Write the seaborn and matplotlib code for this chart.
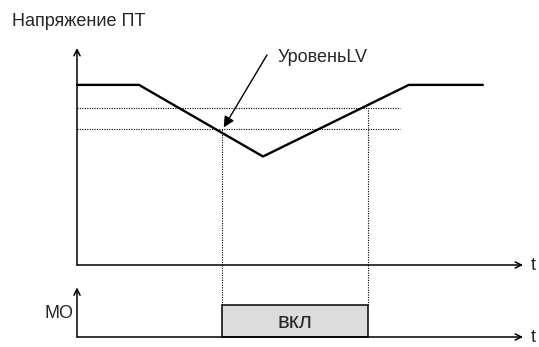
import matplotlib
matplotlib.use("Agg")
import matplotlib.pyplot as plt
import seaborn as sns
import pandas as pd
from matplotlib import font_manager

# ---- data ----
time_pts = [0.0, 1.39, 4.17, 7.44, 9.10]
dc_voltage = [83, 83, 50, 83, 83]
level_high = 72.4
level_low = 62.7
level_end = 7.24
mo_on = 3.25
mo_off = 6.52
mo_level = 1.0
axis_end = 10.0
v_axis_top = 100.0
mo_axis_top = 1.55

title_text = "Напряжение ПТ"
lv_text = "УровеньLV"
mo_text = "MO"
on_text = "вкл"
t_text = "t"

sns.set_theme(style="white")
names = {f.name for f in font_manager.fontManager.ttflist}
narrow = "Liberation Sans Narrow" in names
plt.rcParams["font.family"] = ["Liberation Sans Narrow" if narrow else "Liberation Sans", "DejaVu Sans"]
fs = 15 if narrow else 13

W, H = 539, 347
fig = plt.figure(figsize=(W / 100, H / 100), dpi=100)

x0 = 77
pxt = 44.6
xlim = (-x0 / pxt, (W - x0) / pxt)

# upper axes: px 0..265
ax1 = fig.add_axes([0, (H - 265) / H, 1, 265 / H])
ax1.set_xlim(*xlim)
ax1.set_ylim(0, 265 / 2.17)
ax1.axis("off")

# lower axes: px 265..347
ax2 = fig.add_axes([0, 0, 1, (H - 265) / H])
ax2.set_xlim(*xlim)
ax2.set_ylim(-10 / 32, 72 / 32)
ax2.axis("off")

df = pd.DataFrame({"t": time_pts, "v": dc_voltage})
sns.lineplot(data=df, x="t", y="v", ax=ax1, color="black", lw=1.7, estimator=None, sort=False)

dot = dict(color="black", lw=0.8, linestyles=(0, (1, 1.2)))
ax1.hlines([level_high, level_low], 0, level_end, **dot)
ax1.vlines(mo_on, 0, level_low, **dot)
ax1.vlines(mo_off, 0, level_high, **dot)
ax2.vlines([mo_on, mo_off], mo_level, 72 / 32, **dot)

ax2.bar(mo_on, mo_level, width=mo_off - mo_on, align="edge",
        color="#dcdcdc", edgecolor="black", linewidth=1.1, zorder=2)
ax2.text((mo_on + mo_off) / 2, 0.44, on_text, ha="center", va="center",
         fontsize=16, family=["Liberation Sans", "DejaVu Sans"], zorder=3)

arr = dict(arrowstyle="->", lw=1.1, color="black", shrinkA=0, shrinkB=0, mutation_scale=11)
ax1.annotate("", xy=(0, v_axis_top), xytext=(0, 0), arrowprops=arr)
ax1.annotate("", xy=(axis_end, 0), xytext=(0, 0), arrowprops=arr)
ax2.annotate("", xy=(0, mo_axis_top), xytext=(0, 0), arrowprops=arr)
ax2.annotate("", xy=(axis_end, 0), xytext=(0, 0), arrowprops=arr)

# leader arrow to LV level
ax1.annotate("", xy=(3.29, 63.4), xytext=(4.26, 96.8),
             arrowprops=dict(arrowstyle="-|>", lw=1.0, color="black",
                             shrinkA=0, shrinkB=0, mutation_scale=16))

fig.text(12 / W, 1 - 21 / H, title_text, ha="left", va="center", fontsize=fs)
fig.text(278 / W, 1 - 58 / H, lv_text, ha="left", va="center", fontsize=fs)
fig.text(531 / W, 1 - 265 / H, t_text, ha="left", va="center", fontsize=fs)
fig.text(531 / W, 1 - 337 / H, t_text, ha="left", va="center", fontsize=fs)
fig.text(74 / W, 1 - 313 / H, mo_text, ha="right", va="center", fontsize=fs)

fig.savefig("out.png", dpi=100)
